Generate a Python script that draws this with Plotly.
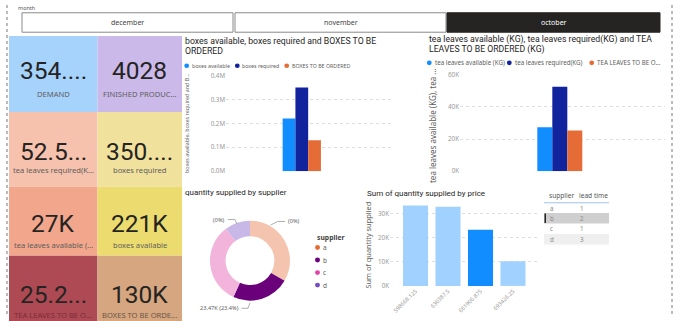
import plotly.graph_objects as go

W, H = 680, 321

# ---- data ----
months = ["december", "november", "october"]
selected_month = "october"

kpi_values = ["354....", "4028", "52.5...", "350....", "27K", "221K", "25.2...", "130K"]
kpi_labels = ["DEMAND", "FINISHED PRODUC...", "tea leaves required(K...", "boxes required",
              "tea leaves available (...", "boxes available", "TEA LEAVES TO BE O...", "BOXES TO BE ORDE..."]

box_series = ["boxes available", "boxes required", "BOXES TO BE ORDERED"]
box_values = [221000, 350640, 129640]
box_ticks = [0, 100000, 200000, 300000, 400000]
box_ticktext = ["0.0M", "0.1M", "0.2M", "0.3M", "0.4M"]

tea_series = ["tea leaves available (KG)", "tea leaves required(KG)", "TEA LEAVES TO BE ORDERED (KG)"]
tea_legend = ["tea leaves available (KG)", "tea leaves required(KG)", "TEA LEAVES TO BE O..."]
tea_values = [27300, 52530, 25230]
tea_ticks = [0, 20000, 40000, 60000]
tea_ticktext = ["0K", "20K", "40K", "60K"]

suppliers = ["a", "b", "c", "d"]
supplier_qty = [33500, 23470, 33050, 10280]
lead_time = [1, 2, 1, 3]
selected_supplier = "b"

prices = ["598668.125", "630387.5", "661906.875", "693426.25"]
price_qty = [33500, 33050, 23470, 10280]
price_ticks = [0, 10000, 20000, 30000]
price_ticktext = ["0K", "10K", "20K", "30K"]

# ---- styling ----
series_colors = ["#118dff", "#12239e", "#e66c37"]
supplier_full = ["#e66c37", "#6b007b", "#e044a7", "#744ec2"]
supplier_faded = ["#f5c4af", "#6b007b", "#f3b4dc", "#c7b8e7"]
tile_colors = ["#a6d3fc", "#cbb9ea", "#f6c2ad", "#f0e19c",
               "#f2a68c", "#ecdc70", "#ad4a54", "#d6a680"]
tile_label_colors = ["#605e5c"] * 6 + ["#7e2c36", "#6a5646"]
TXT = "#252423"
GREY = "#605e5c"
FONT = "Roboto"
BODY = "Noto Sans"


def px(x):
    return x / W


def py(y):
    return 1 - y / H


shapes = []
annotations = []


def note(x, y, text, size, color=GREY, family=BODY, xanchor="left", yanchor="middle", **kw):
    annotations.append(dict(x=px(x), y=py(y), xref="paper", yref="paper", text=text,
                            showarrow=False, xanchor=xanchor, yanchor=yanchor,
                            font=dict(size=size, color=color, family=family), **kw))


def rect(x0, y0, x1, y1, fill, line=None, width=0):
    shapes.append(dict(type="rect", xref="paper", yref="paper", x0=px(x0), x1=px(x1),
                       y0=py(y1), y1=py(y0), fillcolor=fill,
                       line=dict(color=line or fill, width=width), layer="below"))


def circle(cx, cy, r, color):
    shapes.append(dict(type="circle", xref="paper", yref="paper",
                       x0=px(cx - r), x1=px(cx + r), y0=py(cy + r), y1=py(cy - r),
                       fillcolor=color, line=dict(width=0)))


def seg(pts, color="#9a9a9a", width=0.8, dash=None):
    for (xa, ya), (xb, yb) in zip(pts[:-1], pts[1:]):
        ln = dict(color=color, width=width)
        if dash:
            ln["dash"] = dash
        shapes.append(dict(type="line", xref="paper", yref="paper", x0=px(xa), y0=py(ya),
                           x1=px(xb), y1=py(yb), line=ln))


# ---- page frame ----
seg([(7, 0), (7, 321)], color="#777777", width=1, dash="dot")
seg([(672, 0), (672, 321)], color="#777777", width=1, dash="dot")

# ---- month slicer ----
note(16, 3.5, "month", 5.5, color="#555555")
slicer_x = [(22, 233), (235, 446), (447, 660)]
for name, (x0, x1) in zip(months, slicer_x):
    sel = name == selected_month
    rect(x0, 8, x1, 28, "#252423" if sel else "#ffffff", line="#252423" if sel else "#8a8a8a", width=1)
    note((x0 + x1) / 2, 18, name, 7, color="#ffffff" if sel else "#444444", xanchor="center")

# ---- KPI cards ----
cols = [9, 97.5, 182]
rows = [32, 110, 187, 258, 330]
value_y = [67.5, 151, 224.5, 297.5]
label_y = [91.5, 169.5, 246.5, 318.5]
for i, (val, lab) in enumerate(zip(kpi_values, kpi_labels)):
    r, c = divmod(i, 2)
    rect(cols[c], rows[r], cols[c + 1], rows[r + 1], tile_colors[i])
    cx = (cols[c] + cols[c + 1]) / 2
    note(cx, value_y[r], val, 24.5, color=TXT, family=FONT, xanchor="center")
    note(cx, label_y[r], lab, 7.6, color=tile_label_colors[i], xanchor="center")

fig = go.Figure()

# ---- boxes chart ----
note(183, 37.3, "boxes available, boxes required and BOXES TO BE", 8.7, color=TXT, family=FONT)
note(183, 47, "ORDERED", 8.7, color=TXT, family=FONT)
legend_x = [186.7, 237.3, 286.7]
for name, col, x in zip(box_series, series_colors, legend_x):
    circle(x, 62.5, 2.4, col)
    note(x + 3.1, 62.3, name, 5.3, color=GREY)
    fig.add_trace(go.Bar(x=[""], y=[box_values[box_series.index(name)]], name=name,
                         marker=dict(color=col, line=dict(width=0)), xaxis="x", yaxis="y",
                         showlegend=False))
note(186.5, 122, "boxes available, boxes required and B...", 5.4, color=GREY, xanchor="center",
     textangle=-90)

# ---- tea leaves chart ----
note(427, 36, "tea leaves available (KG), tea leaves required(KG) and TEA", 8.7, color=TXT, family=FONT)
note(427, 45.7, "LEAVES TO BE ORDERED (KG)", 8.7, color=TXT, family=FONT)
tea_legend_x = [429.3, 509.3, 591.7]
for name, lab, col, x in zip(tea_series, tea_legend, series_colors, tea_legend_x):
    circle(x, 59.5, 2.4, col)
    note(x + 3.3, 59.3, lab, 6.2, color=GREY)
    fig.add_trace(go.Bar(x=[""], y=[tea_values[tea_series.index(name)]], name=name,
                         marker=dict(color=col, line=dict(width=0)), xaxis="x2", yaxis="y2",
                         showlegend=False))
note(432.5, 124, "tea leaves available (KG), tea ...", 8, color=GREY, xanchor="center", textangle=-90)

# ---- supplier donut ----
note(183, 193, "quantity supplied by supplier", 8, color=TXT, family=FONT)
fig.add_trace(go.Pie(labels=suppliers, values=supplier_qty, hole=0.61, sort=False,
                     direction="clockwise", rotation=0, textinfo="none",
                     marker=dict(colors=supplier_faded, line=dict(width=0)),
                     domain=dict(x=[px(210), px(290)], y=[py(305), py(221)]),
                     showlegend=False))
total = sum(supplier_qty)
share = [q / total for q in supplier_qty]
b_idx = suppliers.index(selected_supplier)
note(227, 220.7, "(0%)", 5.6, xanchor="right")
seg([(228, 220.7), (235, 220.7), (237, 225.5)])
note(286, 222.7, "(0%)", 5.6)
seg([(270.5, 226.5), (277.5, 222.7), (285, 222.7)])
note(240.5, 312, f"{supplier_qty[b_idx] / 1000:.2f}K ({share[b_idx] * 100:.1f}%)", 5.6, xanchor="right")
seg([(241.5, 312), (248, 312), (250, 306.5)])

note(315, 239, "<b>supplier</b>", 6.8, color="#444444")
for i, (s, col) in enumerate(zip(suppliers, supplier_full)):
    yy = 249.5 + i * 12.9
    circle(317.5, yy, 2.5, col)
    note(320.5, yy, s, 6.5, color=GREY)

# ---- quantity by price ----
note(365, 194, "Sum of quantity supplied by price", 8, color=TXT, family=FONT)
price_colors = ["#118dff" if q == supplier_qty[b_idx] else "#a0d1ff" for q in price_qty]
fig.add_trace(go.Bar(x=prices, y=price_qty, marker=dict(color=price_colors, line=dict(width=0)),
                     xaxis="x3", yaxis="y3", showlegend=False))
note(368.5, 247, "Sum of quantity supplied", 7.4, color=GREY, xanchor="center", textangle=-90)

# ---- supplier table ----
rect(544, 214, 609, 224.8, "#cfcfcf")
rect(544, 235.6, 609, 246.4, "#efefef")
rect(544.5, 214.5, 546, 224.3, "#252423")
seg([(544, 203.5), (609, 203.5)], color="#9fc3e8", width=1)
note(547, 195.5, "supplier", 6.6, color="#555555")
note(577, 195.5, "lead time", 6.6, color="#555555")
for i, (s, lt) in enumerate(zip(suppliers, lead_time)):
    yy = 209 + i * 10.7
    note(547.5, yy, s, 6.2, color="#8a8a8a")
    note(577.5, yy, str(lt), 6.2, color="#8a8a8a")

axis_common = dict(showline=False, zeroline=False, ticks="", fixedrange=True)
grid = dict(showgrid=True, gridcolor="#dedede", griddash="dot", gridwidth=1)
tickfont = dict(size=6.2, color="#999999", family=BODY)

fig.update_layout(
    width=W, height=H, margin=dict(l=0, r=0, t=0, b=0),
    paper_bgcolor="white", plot_bgcolor="white",
    barmode="group", bargap=0.23, bargroupgap=0,
    showlegend=False,
    shapes=shapes, annotations=annotations,
    xaxis=dict(domain=[px(226), px(393)], anchor="y", type="category", range=[-1.525, 1.835],
               showticklabels=False, showgrid=False, **axis_common),
    yaxis=dict(domain=[py(171), py(72.7)], anchor="x", range=[0, 400000],
               tickvals=box_ticks, ticktext=box_ticktext, tickfont=tickfont, **grid, **axis_common),
    xaxis2=dict(domain=[px(460), px(665)], anchor="y2", type="category", range=[-1.709, 1.801],
                showticklabels=False, showgrid=False, **axis_common),
    yaxis2=dict(domain=[py(171), py(71.7)], anchor="x2", range=[0, 60000],
                tickvals=tea_ticks, ticktext=tea_ticktext, tickfont=tickfont, **grid, **axis_common),
    xaxis3=dict(domain=[px(390), px(538)], anchor="y3", type="category", range=[-0.785, 3.77],
                tickangle=-45, tickfont=dict(size=5.6, color="#999999", family=BODY),
                showgrid=False, **axis_common),
    yaxis3=dict(domain=[py(289), py(200.2)], anchor="x3", range=[0, 36000],
                tickvals=price_ticks, ticktext=price_ticktext, tickfont=tickfont, **grid, **axis_common),
)

fig.write_html("out.html", config={"displayModeBar": False})
